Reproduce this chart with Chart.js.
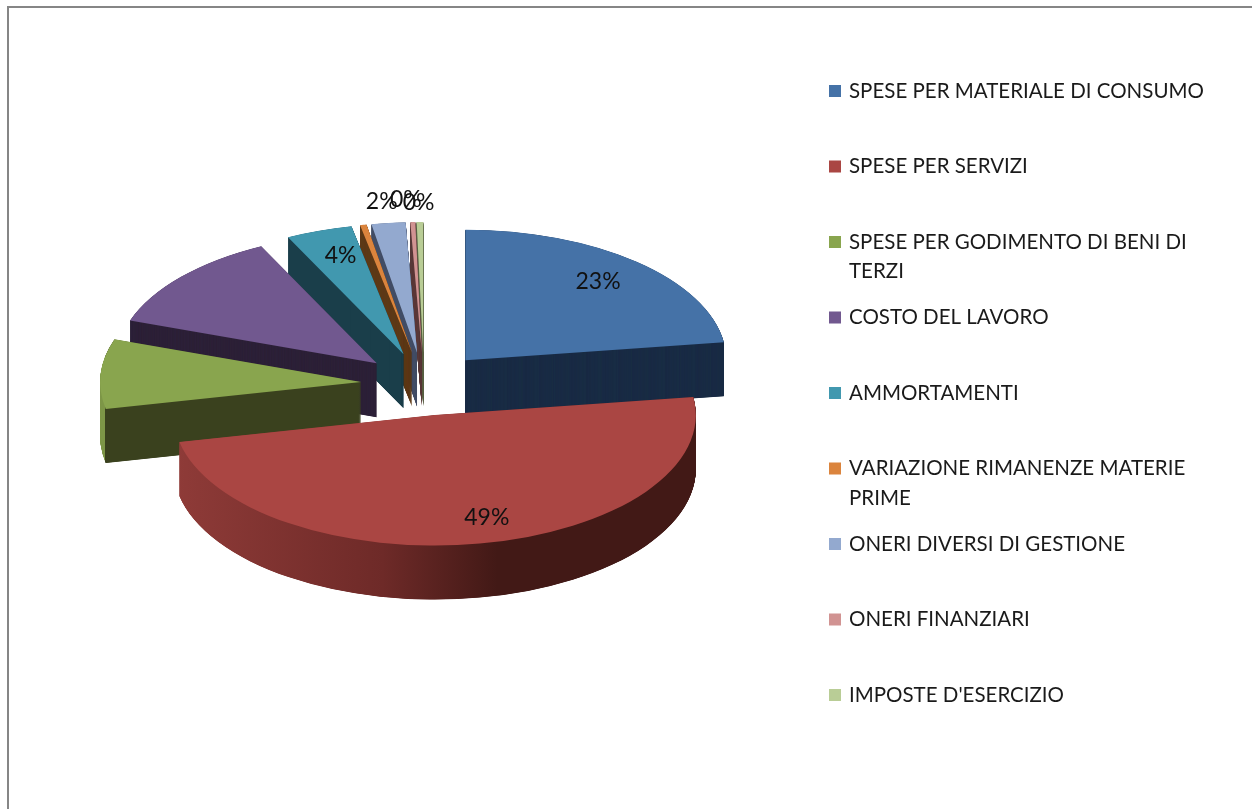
<!DOCTYPE html>
<html>
<head>
<meta charset="utf-8">
<title>Composizione dei costi</title>
<script src="https://cdn.jsdelivr.net/npm/chart.js@4"></script>
<style>
    html, body { margin: 0; padding: 0; background: #fff; overflow: hidden; }
    #cornice { position: absolute; left: 7px; top: 6px; right: 0; bottom: 0; border-left: 2px solid #868686; border-top: 2px solid #868686; }
    #grafico { position: absolute; left: 0; top: 0; }
</style>
</head>
<body>
<div id="cornice"></div>
<canvas id="grafico" width="1252" height="809"></canvas>
<script>
const categorie = [
    "SPESE PER MATERIALE DI CONSUMO",
    "SPESE PER SERVIZI",
    "SPESE PER GODIMENTO DI BENI DI\nTERZI",
    "COSTO DEL LAVORO",
    "AMMORTAMENTI",
    "VARIAZIONE RIMANENZE MATERIE\nPRIME",
    "ONERI DIVERSI DI GESTIONE",
    "ONERI FINANZIARI",
    "IMPOSTE D'ESERCIZIO"
];
const valori = [22.8, 48.9, 8.6, 12.4, 4.1, 0.4, 2.1, 0.3, 0.4];
const etichetteVisibili = [true, true, false, false, true, false, true, true, true];

const colori = ["#4572A7", "#AA4643", "#89A54E", "#71588F", "#4198AF", "#DB843D", "#93A9CF", "#D19392", "#B9CD96"];
const coloriLato = ["#1a2c45", "#421916", "#3a411e", "#2d2138", "#1a3e4a", "#5e3a18", "#434e66", "#5c3c3c", "#5a6246"];

// Ordine di disegno: dal fondo verso chi sta davanti
const ordine = [8, 7, 6, 5, 4, 3, 2, 0, 1];
// Spostamento a mano delle etichette, come nell'originale
const spostaEtichette = [[-1, -2], [17, 2], [0, 0], [0, 0], [3, -2], [0, 0], [-13, -50], [-9, -51], [-2, -48]];

const raggio = 261;
const esplosione = 63;
const schiacciamento = 0.5;
const spessore = 54;
const centroX = 424;
const centroY = 384;

// Parete laterale: il rosso sfuma, il verde ha il bordo chiaro a sinistra
const fillLato = (ctx, i) => {
    if (i === 1) {
        const g = ctx.createLinearGradient(centroX - raggio, 0, centroX + raggio, 0);
        g.addColorStop(0, "#8f3b38");
        g.addColorStop(0.4, "#6e2a28");
        g.addColorStop(0.62, "#421916");
        g.addColorStop(1, "#421916");
        return g;
    }
    if (i === 2) {
        const g = ctx.createLinearGradient(centroX - raggio, 0, centroX + raggio, 0);
        g.addColorStop(0, "#7d9647");
        g.addColorStop(0.009, "#7d9647");
        g.addColorStop(0.01, coloriLato[2]);
        g.addColorStop(1, coloriLato[2]);
        return g;
    }
    return coloriLato[i];
};

const pie3d = {
    id: "pie3d",
    beforeDatasetsDraw(chart) {
        const ctx = chart.ctx;
        const archi = chart.getDatasetMeta(0).data;
        const disegna = (arco, angolo, dy, fill) => {
            const copia = Object.create(arco);
            copia.options = { ...arco.options, backgroundColor: fill, borderWidth: 0 };
            ctx.save();
            ctx.translate(centroX, centroY + dy);
            ctx.scale(1, schiacciamento);
            ctx.translate(-centroX, -centroY);
            ctx.translate(Math.cos(angolo) * esplosione, Math.sin(angolo) * esplosione);
            copia.draw(ctx);
            ctx.restore();
        };
        ordine.forEach((i) => {
            const arco = archi[i];
            const angolo = (arco.startAngle + arco.endAngle) / 2;
            const fill = fillLato(ctx, i);
            // passo piccolo, altrimenti restano righine sulla parete
            for (let k = spessore; k > 0; k -= 0.25) {
                disegna(arco, angolo, k, fill);
            }
            disegna(arco, angolo, 0, colori[i]);
        });
        return false; // i settori sono gia' disegnati qui sopra
    },
    afterDraw(chart) {
        const ctx = chart.ctx;
        const archi = chart.getDatasetMeta(0).data;
        const totale = valori.reduce((a, b) => a + b, 0);

        ctx.save();
        ctx.fillStyle = "#111";
        ctx.textAlign = "center";
        ctx.textBaseline = "middle";
        ctx.font = "23px Lato";
        archi.forEach((arco, i) => {
            if (!etichetteVisibili[i]) return;
            const angolo = (arco.startAngle + arco.endAngle) / 2;
            const r = esplosione + raggio * 0.78;
            const x = centroX + Math.cos(angolo) * r + spostaEtichette[i][0];
            const y = centroY + Math.sin(angolo) * r * schiacciamento + spostaEtichette[i][1];
            ctx.fillText(Math.round(valori[i] / totale * 100) + "%", x, y);
        });

        // Legenda a passo fisso, con a capo
        ctx.font = "20.5px Lato";
        ctx.textAlign = "left";
        categorie.forEach((nome, i) => {
            const y = 91 + i * 75.5;
            ctx.fillStyle = colori[i];
            ctx.fillRect(829, y - 6, 12, 12);
            ctx.fillStyle = "#1a1a1a";
            nome.split("\n").forEach((riga, n) => {
                ctx.fillText(riga, 849, y + n * 29.5);
            });
        });
        ctx.restore();
    }
};

new Chart(document.getElementById("grafico"), {
    type: "pie",
    data: {
        labels: categorie,
        datasets: [{ data: valori, backgroundColor: colori, borderWidth: 0 }]
    },
    options: {
        responsive: false,
        animation: false,
        radius: raggio,
        layout: { padding: { left: 0, top: 0, right: 1252 - 2 * centroX, bottom: 809 - 2 * centroY } },
        plugins: { legend: { display: false }, tooltip: { enabled: false } }
    },
    plugins: [pie3d]
});
</script>
</body>
</html>
